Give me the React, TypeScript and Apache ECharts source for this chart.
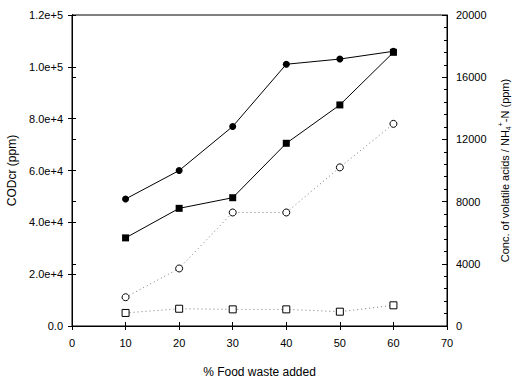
import React, { useEffect, useRef } from "react";
import * as echarts from "echarts";

const foodWaste = [10, 20, 30, 40, 50, 60];
const codFilledCircle = [49000, 60000, 77000, 101000, 103000, 106000];
const codFilledSquare = [34000, 45400, 49500, 70500, 85300, 105600];
const acidsOpenCircle = [1850, 3700, 7300, 7300, 10200, 13000];
const nh4OpenSquare = [840, 1110, 1070, 1070, 920, 1330];
const leftTickLabels = ["0.0", "2.0e+4", "4.0e+4", "6.0e+4", "8.0e+4", "1.0e+5", "1.2e+5"];
const rightTickLabels = ["0", "4000", "8000", "12000", "16000", "20000"];

const FONT = "Liberation Sans, Arial, sans-serif";

function pairs(ys: number[]) {
  return foodWaste.map((x, i) => [x, ys[i]]);
}

export default function App() {
  const ref = useRef<HTMLDivElement>(null);
  useEffect(() => {
    if (!ref.current) return;
    const chart = echarts.init(ref.current, undefined, { renderer: "svg" });
    const axisLine = { show: true, lineStyle: { color: "#000", width: 1 } };
    chart.setOption({
      animation: false,
      backgroundColor: "#fff",
      grid: {
        left: 72, right: 65, top: 15, bottom: 52, containLabel: false, outerBoundsMode: "none",
        show: true, borderColor: "#000", borderWidth: 1, backgroundColor: "transparent",
      },
      xAxis: [
        {
          type: "value", min: 0, max: 70, interval: 10, position: "bottom",
          axisLine, axisTick: { show: true, inside: false, length: 4, lineStyle: { color: "#000" } },
          axisLabel: { color: "#000", fontFamily: FONT, fontSize: 11, margin: 11 },
          splitLine: { show: false },
          name: "% Food waste added", nameLocation: "middle", nameGap: 40,
          nameTextStyle: { color: "#000", fontFamily: FONT, fontSize: 12 },
        },
        {
          type: "value", min: 0, max: 70, interval: 10, position: "bottom",
          axisLine, axisTick: { show: true, inside: true, length: 4, lineStyle: { color: "#000" } },
          axisLabel: { show: false }, splitLine: { show: false },
        },
      ],
      yAxis: [
        {
          type: "value", min: 0, max: 120000, interval: 20000, position: "left",
          axisLine, axisTick: { show: true, inside: false, length: 4, lineStyle: { color: "#000" } },
          axisLabel: {
            color: "#000", fontFamily: FONT, fontSize: 11, margin: 9,
            formatter: (v: number) => leftTickLabels[Math.round(v / 20000)] ?? "",
          },
          splitLine: { show: false },
          name: "CODcr (ppm)", nameLocation: "middle", nameGap: 54, nameRotate: 90,
          nameTextStyle: { color: "#000", fontFamily: FONT, fontSize: 12 },
        },
        {
          type: "value", min: 0, max: 20000, interval: 4000, position: "right",
          axisLine, axisTick: { show: true, inside: false, length: 4, lineStyle: { color: "#000" } },
          minorTick: { show: false },
          axisLabel: {
            color: "#000", fontFamily: FONT, fontSize: 11, margin: 9,
            formatter: (v: number) => rightTickLabels[Math.round(v / 4000)] ?? "",
          },
          splitLine: { show: false },
          name: "Conc. of volatile acids / NH{sub|4}{sup|+}-N (ppm)", nameLocation: "middle", nameGap: 49, nameRotate: 90,
          nameTextStyle: {
            color: "#000", fontFamily: FONT, fontSize: 11,
            rich: {
              sub: { fontSize: 7, fontFamily: FONT, color: "#000", verticalAlign: "bottom", padding: [0, 0, -2, 0] },
              sup: { fontSize: 7, fontFamily: FONT, color: "#000", verticalAlign: "top", padding: [-2, 0, 0, 0] },
            },
          },
        },
        {
          type: "value", min: 0, max: 120000, interval: 20000, position: "left",
          axisLine, axisTick: { show: true, inside: true, length: 4, lineStyle: { color: "#000" } },
          axisLabel: { show: false }, splitLine: { show: false },
        },
        {
          type: "value", min: 0, max: 20000, interval: 4000, position: "right",
          axisLine, axisTick: { show: true, inside: true, length: 5, lineStyle: { color: "#000" } },
          minorTick: { show: true, splitNumber: 5, length: 3, lineStyle: { color: "#000" } },
          axisLabel: { show: false }, splitLine: { show: false },
        },
      ],
      series: [
        {
          type: "line", name: "COD filled circle", xAxisIndex: 0, yAxisIndex: 0, data: pairs(codFilledCircle),
          symbol: "circle", symbolSize: 7, itemStyle: { color: "#000" },
          lineStyle: { color: "#000", width: 1 },
        },
        {
          type: "line", name: "COD filled square", xAxisIndex: 0, yAxisIndex: 0, data: pairs(codFilledSquare),
          symbol: "rect", symbolSize: 7, itemStyle: { color: "#000" },
          lineStyle: { color: "#000", width: 1 },
        },
        {
          type: "line", name: "Volatile acids", xAxisIndex: 0, yAxisIndex: 1, data: pairs(acidsOpenCircle),
          symbol: "circle", symbolSize: 7, itemStyle: { color: "#fff", borderColor: "#000", borderWidth: 1 },
          lineStyle: { color: "#777", width: 1, type: [1, 3] },
        },
        {
          type: "line", name: "NH4-N", xAxisIndex: 0, yAxisIndex: 1, data: pairs(nh4OpenSquare),
          symbol: "rect", symbolSize: 7, itemStyle: { color: "#fff", borderColor: "#000", borderWidth: 1 },
          lineStyle: { color: "#777", width: 1, type: [1, 3] },
        },
      ],
    });
    return () => chart.dispose();
  }, []);
  return <div ref={ref} style={{ width: 512, height: 378, position: "absolute", left: 0, top: 0 }} />;
}
